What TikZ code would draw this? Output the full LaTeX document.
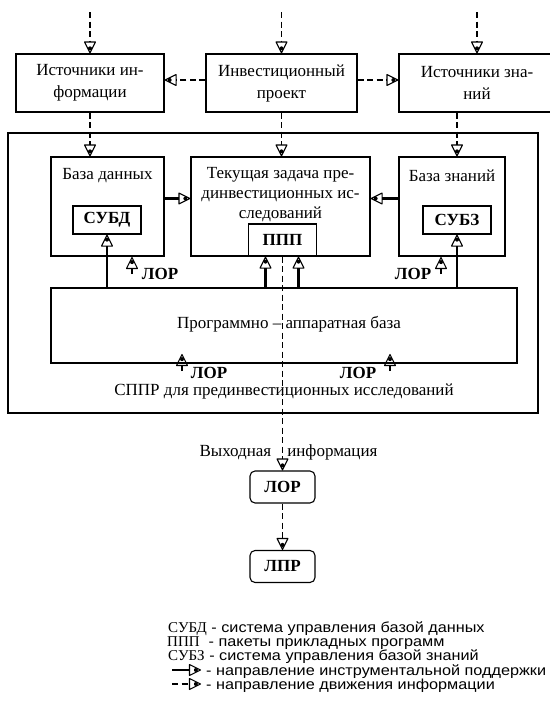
\documentclass[tikz,border=0pt]{standalone}
\usepackage{fontspec}
\setmainfont{Liberation Serif}
\newfontfamily\legendfont[FakeStretch=1.12]{Liberation Sans}
\usetikzlibrary{arrows.meta}

% open triangle with a dot inside
\pgfdeclarearrow{
  name = TriDot,
  setup code = {
    \pgfarrowssettipend{0.5pt}
    \pgfarrowssetlineend{-11pt}
    \pgfarrowssetbackend{-11.5pt}
    \pgfarrowssetvisualbackend{-11pt}
    \pgfarrowshullpoint{0.5pt}{0pt}
    \pgfarrowsupperhullpoint{-11.5pt}{6pt}
  },
  drawing code = {
    \pgfsetdash{}{0pt}
    \pgfsetlinewidth{1.1pt}
    \pgfsetroundjoin
    \pgfpathmoveto{\pgfpoint{0pt}{0pt}}
    \pgfpathlineto{\pgfpoint{-11pt}{5.5pt}}
    \pgfpathlineto{\pgfpoint{-11pt}{-5.5pt}}
    \pgfpathclose
    \pgfusepathqstroke
    \pgfpathcircle{\pgfpoint{-4.6pt}{0pt}}{2pt}
    \pgfusepathqfill
  }
}

\begin{document}
\begin{tikzpicture}[x=1pt,y=-1pt,
  every node/.style={font=\fontsize{17pt}{22pt}\selectfont},
  box/.style={draw, line width=1.1pt, inner sep=0pt, align=center},
  infoarr/.style={line width=1.8pt, dash pattern=on 6pt off 3.5pt, -TriDot},
  toolarr/.style={line width=2.6pt, -TriDot},
  lorlabel/.style={inner sep=0pt, font=\fontsize{17pt}{20pt}\selectfont\bfseries},
  legendtext/.style={anchor=base west, inner sep=0pt, font=\fontsize{14.5pt}{14pt}\selectfont\legendfont},
]
\useasboundingbox (0,0) rectangle (549,704);

% top row
\node[box, minimum width=148pt, minimum height=58pt] (srcinfo) at (90,83) {Источники ин-\\формации};
\node[box, minimum width=151pt, minimum height=58pt] (project) at (281.5,83) {Инвестиционный\\проект};
\node[box, minimum width=156pt, minimum height=58pt] (srcknow) at (477,83) {Источники зна-\\ний};
\coordinate (in1) at (90,12);
\coordinate (in2) at (281.5,12);
\coordinate (in3) at (477,12);
\draw[infoarr] (in1) -- (srcinfo);
\draw[infoarr] (in2) -- (project);
\draw[infoarr] (in3) -- (srcknow);
\draw[infoarr] ([yshift=3pt]project.west) -- ([yshift=3pt]srcinfo.east);
\draw[infoarr] ([yshift=3pt]project.east) -- ([yshift=3pt]srcknow.west);

% DSS frame
\node[box, minimum width=530pt, minimum height=280pt] (dss) at (273,273) {};
\node (dsstxt) at (284,391) {СППР для прединвестиционных исследований};

\node[box, minimum width=113pt, minimum height=99pt] (db) at (107.5,206.5) {};
\node[box, minimum width=179pt, minimum height=99pt] (task) at (280.5,206.5) {};
\node[box, minimum width=106pt, minimum height=99pt] (kb) at (452,206.5) {};
\node (dbtxt) at (107.5,176) {База данных};
\node[align=center, font=\fontsize{17pt}{20pt}\selectfont] (tasktxt) at (280.5,195) {Текущая задача пре-\\динвестиционных ис-\\следований};
\node (kbtxt) at (452,176) {База знаний};
\node[box, minimum width=68pt, minimum height=28pt, font=\fontsize{17pt}{20pt}\selectfont\bfseries] (dbms) at (107,220) {СУБД};
\node[box, minimum width=68pt, minimum height=32pt, font=\fontsize{17pt}{20pt}\selectfont\bfseries] (app) at (282.5,240) {ППП};
\node[box, minimum width=68pt, minimum height=28pt, font=\fontsize{17pt}{20pt}\selectfont\bfseries] (kbms) at (457,220) {СУБЗ};

\draw[infoarr] (srcinfo.south) -- (srcinfo.south |- db.north);
\draw[infoarr] (project.south) -- (project.south |- task.north);
\draw[infoarr] ([xshift=-20pt]srcknow.south) -- ([xshift=-20pt]srcknow.south |- kb.north);
\draw[toolarr] ([yshift=8pt]db.east) -- ([yshift=8pt]task.west);
\draw[toolarr] ([yshift=8pt]kb.west) -- ([yshift=8pt]task.east);

% hardware and software base
\node[box, minimum width=466pt, minimum height=75pt] (hw) at (284,325.5) {};
\node (hwtxt) at (289,324) {Программно – аппаратная база};
\draw[toolarr] (hw.north -| dbms.south) -- (dbms.south);
\draw[toolarr] ([xshift=-17pt]app.south |- hw.north) -- ([xshift=-17pt]app.south);
\draw[toolarr] ([xshift=16pt]app.south |- hw.north) -- ([xshift=16pt]app.south);
\draw[toolarr] (hw.north -| kbms.south) -- (kbms.south);

% LOR marks
\node[lorlabel] (lor1) at (160,274) {ЛОР};
\node[lorlabel] (lor2) at (413,274) {ЛОР};
\node[lorlabel] (lor3) at (209,373) {ЛОР};
\node[lorlabel] (lor4) at (358,373) {ЛОР};
\coordinate (m1a) at (132,274); \coordinate (m1b) at (132,257);
\coordinate (m2a) at (441,274); \coordinate (m2b) at (441,257);
\coordinate (m3a) at (182,371); \coordinate (m3b) at (182,354);
\coordinate (m4a) at (390,371); \coordinate (m4b) at (390,354);
\draw[infoarr] (m1a) -- (m1b);
\draw[infoarr] (m2a) -- (m2b);
\draw[infoarr] (m3a) -- (m3b);
\draw[infoarr] (m4a) -- (m4b);

% output
\node (outtxt) at (288.5,452) {Выходная\hspace{16pt}информация};
\node[box, rounded corners=5pt, minimum width=65pt, minimum height=32pt, font=\fontsize{17pt}{20pt}\selectfont\bfseries] (lor) at (282.5,487) {ЛОР};
\node[box, rounded corners=5pt, minimum width=65pt, minimum height=32pt, font=\fontsize{17pt}{20pt}\selectfont\bfseries] (lpr) at (282.5,566.5) {ЛПР};
\draw[infoarr] (app.south) -- (lor.north);
\draw[infoarr] (lor) -- (lpr);

% legend
\node[legendtext] (leg1) at (168,632) {{\rmfamily\fontsize{15pt}{14pt}\selectfont СУБД} - система управления базой данных};
\node[legendtext] (leg2) at (167,646) {{\rmfamily\fontsize{15pt}{14pt}\selectfont ППП}\ \ - пакеты прикладных программ};
\node[legendtext] (leg3) at (168,660) {{\rmfamily\fontsize{15pt}{14pt}\selectfont СУБЗ} - система управления базой знаний};
\coordinate (k1a) at (172,670); \coordinate (k1b) at (201,670);
\coordinate (k2a) at (172,684); \coordinate (k2b) at (201,684);
\draw[toolarr, line width=2pt] (k1a) -- (k1b);
\draw[infoarr] (k2a) -- (k2b);
\node[legendtext] (leg4) at (206,675) {- направление инструментальной поддержки};
\node[legendtext] (leg5) at (206,689) {- направление движения информации};
\end{tikzpicture}
\end{document}
